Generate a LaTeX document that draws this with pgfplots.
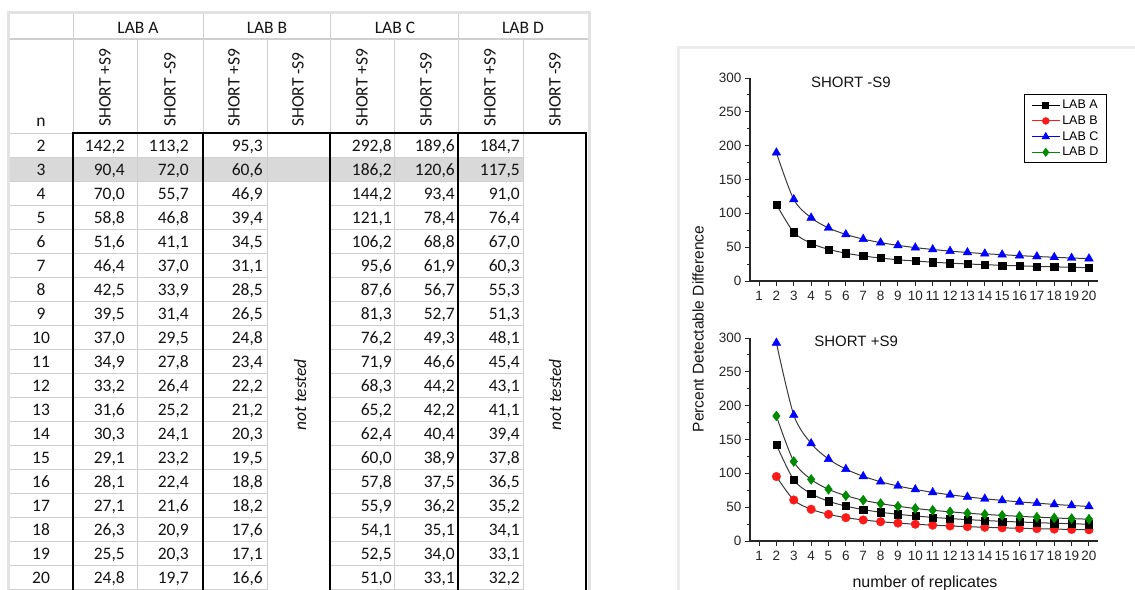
\documentclass[border=0pt]{standalone}
\usepackage{fontspec}
\usepackage{pgfplots}
\usepackage{pgfplotstable}
\pgfplotsset{compat=1.18}
\setmainfont{Liberation Sans}
\newfontfamily\tabfont{Carlito}

\definecolor{gridc}{HTML}{CFCFCF}
\definecolor{hl}{HTML}{D9D9D9}
\definecolor{framec}{HTML}{E2E2E2}
\definecolor{panelc}{HTML}{ECECEC}
\definecolor{txt}{HTML}{141414}
\definecolor{lineg}{HTML}{3A3A3A}
\definecolor{pgreen}{HTML}{008A00}
\definecolor{pred}{HTML}{FF1A1A}
\definecolor{pblue}{HTML}{0000FF}

\pgfplotstableread{
n Ap Am Bp Cp Cm Dp
2 142.2 113.2 95.3 292.8 189.6 184.7
3 90.4 72.0 60.6 186.2 120.6 117.5
4 70.0 55.7 46.9 144.2 93.4 91.0
5 58.8 46.8 39.4 121.1 78.4 76.4
6 51.6 41.1 34.5 106.2 68.8 67.0
7 46.4 37.0 31.1 95.6 61.9 60.3
8 42.5 33.9 28.5 87.6 56.7 55.3
9 39.5 31.4 26.5 81.3 52.7 51.3
10 37.0 29.5 24.8 76.2 49.3 48.1
11 34.9 27.8 23.4 71.9 46.6 45.4
12 33.2 26.4 22.2 68.3 44.2 43.1
13 31.6 25.2 21.2 65.2 42.2 41.1
14 30.3 24.1 20.3 62.4 40.4 39.4
15 29.1 23.2 19.5 60.0 38.9 37.8
16 28.1 22.4 18.8 57.8 37.5 36.5
17 27.1 21.6 18.2 55.9 36.2 35.2
18 26.3 20.9 17.6 54.1 35.1 34.1
19 25.5 20.3 17.1 52.5 34.0 33.1
20 24.8 19.7 16.6 51.0 33.1 32.2
}\datatab

\pgfplotsset{
 pdd/.style={
  scale only axis, width=348pt, height=203pt,
  xmin=0.48, xmax=20.52, ymin=0, ymax=300,
  axis x line*=bottom, axis y line*=left,
  axis line style={line width=1.2pt, draw=black!85},
  xtick={1,...,20}, ytick={0,50,...,300}, minor y tick num=1,
  tick align=outside, major tick length=5pt, minor tick length=3pt,
  tick style={line width=1pt, black!85},
  tick label style={font=\fontsize{13.5}{14}\selectfont, text=black!85},
  xticklabel style={inner xsep=0pt, yshift=-1.5pt},
  /pgf/number format/assume math mode=true,
  clip=false,
 },
 ser/.style={lineg, line width=1pt, smooth, tension=0.5},
}

\begin{document}
\begin{tikzpicture}
\path[use as bounding box] (0,0) rectangle (1135pt,-589pt);
\clip (0,0) rectangle (1135pt,-589pt);
\fill[white] (0,0) rectangle (1135pt,-589pt);
\begin{scope}[x=1pt,y=-1pt]
 \tikzset{tab/.style={font=\tabfont\fontsize{17.5}{18}\selectfont, text=txt, inner sep=0pt}}
 % highlight row 3
 \fill[hl] (9,157) rectangle (523,181);
 % grid lines
 \foreach \k in {1,...,19}{
   \pgfmathsetmacro\yy{133+24*\k}
   \draw[gridc, line width=1pt] (9,\yy) -- (267,\yy);
   \draw[gridc, line width=1pt] (330,\yy) -- (523,\yy);
 }
 \draw[gridc, line width=1pt] (9,133) -- (73,133);
 \draw[gridc, line width=1pt] (267,157) -- (330,157);
 \draw[gridc, line width=1pt] (267,181) -- (330,181);
 \foreach \xx in {137,267,394,523}{
   \draw[gridc, line width=1pt] (\xx,39) -- (\xx,600);
 }
 \foreach \xx in {73,203,330,458}{
   \draw[gridc, line width=1pt] (\xx,12) -- (\xx,133);
 }
 \draw[gridc, line width=1.5pt] (8,39) -- (589,39);
 \draw[framec, line width=3pt] (8,12) rectangle (589,600);
 % thick frame
 \draw[black, line width=2.4pt] (72,133) -- (587,133);
 \foreach \xx in {73,203,330,458,586}{
   \draw[black, line width=2.4pt] (\xx,133) -- (\xx,600);
 }
 % headers
 \node[tab] at (138,28) {LAB A};
 \node[tab] at (267,28) {LAB B};
 \node[tab] at (395,28) {LAB C};
 \node[tab] at (523,28) {LAB D};
 \node[tab, anchor=base] at (41,126) {n};
 \foreach \xx in {105,234,362,490}{
   \node[tab, rotate=90, anchor=west] at (\xx,127) {SHORT +S9};
 }
 \foreach \xx in {170,298,426,555}{
   \node[tab, rotate=90, anchor=west] at (\xx,127) {SHORT -S9};
 }
 % body
 \foreach \r in {0,...,18}{
   \pgfmathsetmacro\yy{151+24*\r}
   \pgfplotstablegetelem{\r}{n}\of\datatab
   \node[tab, anchor=base] at (41,\yy) {\pgfplotsretval};
   \foreach \c/\xx in {Ap/125,Am/189,Bp/263,Cp/392,Cm/455,Dp/520}{
     \pgfplotstablegetelem{\r}{\c}\of\datatab
     \node[tab, anchor=base east] at (\xx,\yy) {\pgfmathprintnumber[fixed,fixed zerofill,precision=1,use comma,assume math mode=true]{\pgfplotsretval}};
   }
 }
 \node[tab, font=\tabfont\itshape\fontsize{17.5}{18}\selectfont, rotate=90] at (300,395) {not tested};
 \node[tab, font=\tabfont\itshape\fontsize{17.5}{18}\selectfont, rotate=90] at (555,395) {not tested};
 % chart panel frame
 \draw[panelc, line width=3pt] (678,47) rectangle (1150,610);
\end{scope}

% top chart: SHORT -S9
\begin{axis}[pdd, at={(750pt,-281pt)}, anchor=south west,
  legend style={at={(0.788,0.92)}, anchor=north west, draw=black, line width=1.1pt,
    font=\fontsize{12.5}{13}\selectfont, inner xsep=6.5pt, inner ysep=3.5pt, fill=white,
    row sep=1.5pt,
    /tikz/every even column/.append style={column sep=0pt}},
  legend cell align=left,
  legend image code/.code={\draw[mark repeat=2,mark phase=2,#1] plot coordinates {(0pt,0pt) (14pt,0pt) (28pt,0pt)};},
]
\addplot[ser, mark=square*, mark size=3.6pt, mark options={solid, fill=black, draw=black, line width=0.4pt}, forget plot] table[x=n,y=Am]{\datatab};
\addplot[ser, mark=triangle*, mark size=5pt, mark options={solid, fill=pblue, draw=pblue, line width=0.4pt}, forget plot] table[x=n,y=Cm]{\datatab};
\addlegendimage{black, line width=1pt, mark=square*, mark size=2.8pt, mark options={fill=black}}
\addlegendimage{pred, line width=1pt, mark=*, mark size=3.2pt, mark options={fill=pred}}
\addlegendimage{pblue, line width=1pt, mark=triangle*, mark size=3.8pt, mark options={fill=pblue}}
\addlegendimage{pgreen, line width=1pt, mark=diamond*, mark size=3.8pt, mark options={fill=pgreen}}
\legend{LAB A, LAB B, LAB C, LAB D}
\node[font=\fontsize{15}{15}\selectfont, text=txt] at (rel axis cs:0.29,0.98) {SHORT -S9};
\end{axis}

% bottom chart: SHORT +S9
\begin{axis}[pdd, at={(750pt,-541pt)}, anchor=south west]
\addplot[ser, mark=*, mark size=4.3pt, mark options={solid, fill=pred, draw=pred, line width=0.4pt}] table[x=n,y=Bp]{\datatab};
\addplot[ser, mark=square*, mark size=3.6pt, mark options={solid, fill=black, draw=black, line width=0.4pt}] table[x=n,y=Ap]{\datatab};
\addplot[ser, mark=diamond*, mark size=5pt, mark options={solid, fill=pgreen, draw=pgreen, line width=0.4pt}] table[x=n,y=Dp]{\datatab};
\addplot[ser, mark=triangle*, mark size=5pt, mark options={solid, fill=pblue, draw=pblue, line width=0.4pt}] table[x=n,y=Cp]{\datatab};
\node[font=\fontsize{15}{15}\selectfont, text=txt] at (rel axis cs:0.305,0.985) {SHORT +S9};
\end{axis}

\node[rotate=90, font=\fontsize{15.5}{16}\selectfont, text=txt] at (698pt,-329pt) {Percent Detectable Difference};
\node[anchor=base, font=\fontsize{16}{16}\selectfont, text=txt] at (925pt,-587pt) {number of replicates};
\end{tikzpicture}
\end{document}
